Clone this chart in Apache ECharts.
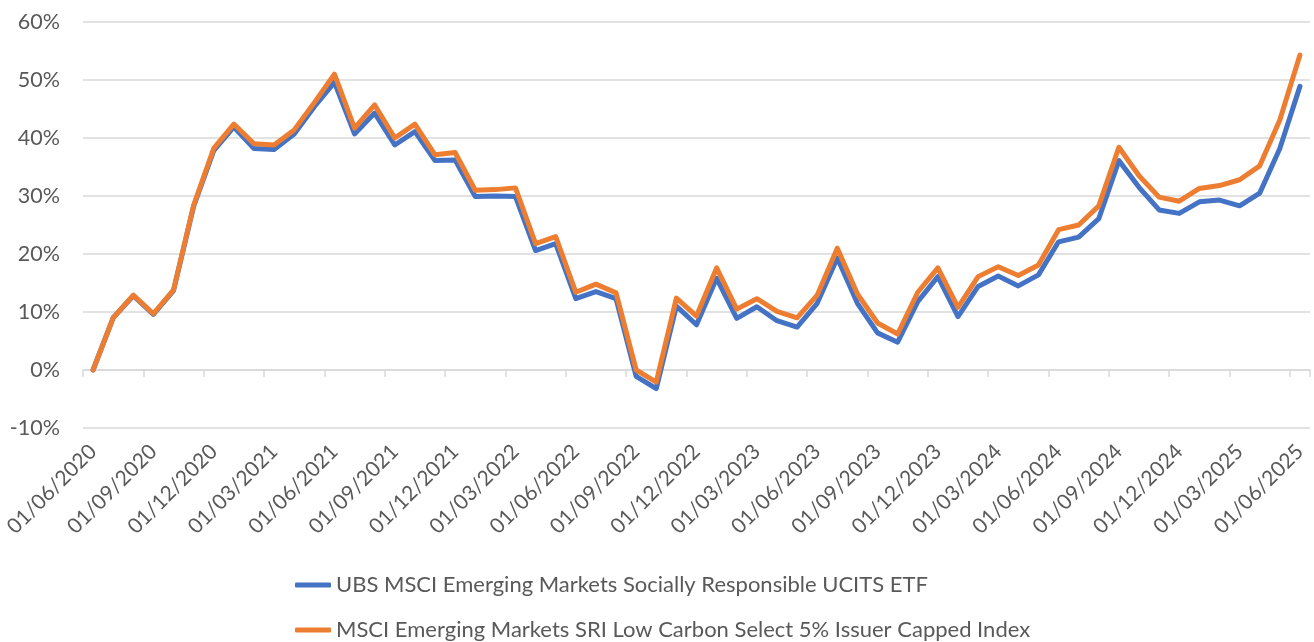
<!DOCTYPE html>
<html>
<head>
<meta charset="utf-8">
<script src="https://cdn.jsdelivr.net/npm/echarts@6/dist/echarts.min.js"></script>
<style>
html,body{margin:0;padding:0;background:#fff;}
#c{width:1314px;height:642px;}
</style>
</head>
<body>
<div id="c"></div>
<script>
const categories = [
  "01/06/2020","01/07/2020","01/08/2020","01/09/2020","01/10/2020","01/11/2020","01/12/2020",
  "01/01/2021","01/02/2021","01/03/2021","01/04/2021","01/05/2021","01/06/2021","01/07/2021","01/08/2021","01/09/2021","01/10/2021","01/11/2021","01/12/2021",
  "01/01/2022","01/02/2022","01/03/2022","01/04/2022","01/05/2022","01/06/2022","01/07/2022","01/08/2022","01/09/2022","01/10/2022","01/11/2022","01/12/2022",
  "01/01/2023","01/02/2023","01/03/2023","01/04/2023","01/05/2023","01/06/2023","01/07/2023","01/08/2023","01/09/2023","01/10/2023","01/11/2023","01/12/2023",
  "01/01/2024","01/02/2024","01/03/2024","01/04/2024","01/05/2024","01/06/2024","01/07/2024","01/08/2024","01/09/2024","01/10/2024","01/11/2024","01/12/2024",
  "01/01/2025","01/02/2025","01/03/2025","01/04/2025","01/05/2025","01/06/2025"
];
const etfName = "UBS MSCI Emerging Markets Socially Responsible UCITS ETF";
const indexName = "MSCI Emerging Markets SRI Low Carbon Select 5% Issuer Capped Index";
const etfValues = [
  0, 9.0, 12.8, 9.6, 13.7, 28.2, 37.8,
  41.9, 38.2, 38.0, 40.7, 45.4, 49.6, 40.7, 44.3, 38.8, 41.1, 36.1, 36.2,
  29.9, 30.0, 29.9, 20.6, 21.8, 12.3, 13.5, 12.3, -1.1, -3.2, 11.0, 7.8,
  15.8, 8.9, 10.9, 8.5, 7.4, 11.5, 19.3, 11.5, 6.4, 4.8, 11.8, 16.1,
  9.2, 14.4, 16.2, 14.5, 16.4, 22.1, 22.9, 26.1, 36.1, 31.5, 27.6, 27.0,
  29.0, 29.3, 28.3, 30.5, 38.2, 48.9
];
const indexValues = [
  0, 9.0, 12.9, 9.7, 13.8, 28.4, 38.2,
  42.4, 39.0, 38.8, 41.4, 46.1, 51.0, 41.7, 45.7, 40.0, 42.4, 37.1, 37.5,
  31.0, 31.1, 31.4, 21.8, 23.0, 13.4, 14.8, 13.3, 0.0, -2.1, 12.4, 9.3,
  17.6, 10.5, 12.3, 10.1, 9.0, 12.9, 21.0, 13.1, 8.1, 6.2, 13.4, 17.6,
  10.8, 16.1, 17.8, 16.3, 18.1, 24.2, 25.0, 28.3, 38.4, 33.5, 29.8, 29.1,
  31.3, 31.8, 32.8, 35.2, 43.1, 54.3
];
const yTicks = { min: -10, max: 60, interval: 10 };

const textColor = '#595959';
const gridColor = '#d9d9d9';
const fontFamily = 'Lato, "Open Sans", sans-serif';

function legendFor(name, top) {
  return {
    orient: 'horizontal',
    left: 290,
    top: top,
    itemWidth: 36,
    itemHeight: 5,
    icon: 'roundRect',
    textStyle: { color: textColor, fontSize: 22, fontFamily: fontFamily, lineHeight: 26 },
    data: [name]
  };
}

const chart = echarts.init(document.getElementById('c'), null, { renderer: 'canvas' });
chart.setOption({
  animation: false,
  backgroundColor: '#ffffff',
  grid: { left: 83, right: 4, top: 22, bottom: 214, containLabel: false },
  legend: [legendFor(etfName, 567), legendFor(indexName, 612)],
  xAxis: [
    {
      type: 'category',
      data: categories,
      boundaryGap: true,
      position: 'bottom',
      axisLine: { onZero: true, lineStyle: { color: gridColor, width: 1.5 } },
      axisTick: { show: true, interval: 2, length: 7, lineStyle: { color: gridColor, width: 1.5 } },
      axisLabel: { show: false },
      splitLine: { show: false }
    },
    {
      type: 'category',
      data: categories,
      boundaryGap: true,
      position: 'bottom',
      axisLine: { show: false, onZero: false },
      axisTick: { show: false },
      axisLabel: {
        show: true, interval: 2, rotate: 45, margin: 20,
        color: textColor, fontSize: 21, fontFamily: fontFamily
      },
      splitLine: { show: false }
    }
  ],
  yAxis: {
    type: 'value',
    min: yTicks.min, max: yTicks.max, interval: yTicks.interval,
    axisLine: { show: false },
    axisTick: { show: false },
    axisLabel: { formatter: '{value}%', margin: 23, color: textColor, fontSize: 21.5, fontFamily: fontFamily },
    splitLine: { show: true, lineStyle: { color: gridColor, width: 1.5 } }
  },
  series: [
    {
      name: etfName, type: 'line', data: etfValues, xAxisIndex: 0,
      symbol: 'none', smooth: false,
      lineStyle: { color: '#4472C4', width: 5, cap: 'round', join: 'round' },
      itemStyle: { color: '#4472C4' }
    },
    {
      name: indexName, type: 'line', data: indexValues, xAxisIndex: 0,
      symbol: 'none', smooth: false,
      lineStyle: { color: '#ED7D31', width: 5, cap: 'round', join: 'round' },
      itemStyle: { color: '#ED7D31' }
    }
  ]
});
</script>
</body>
</html>
